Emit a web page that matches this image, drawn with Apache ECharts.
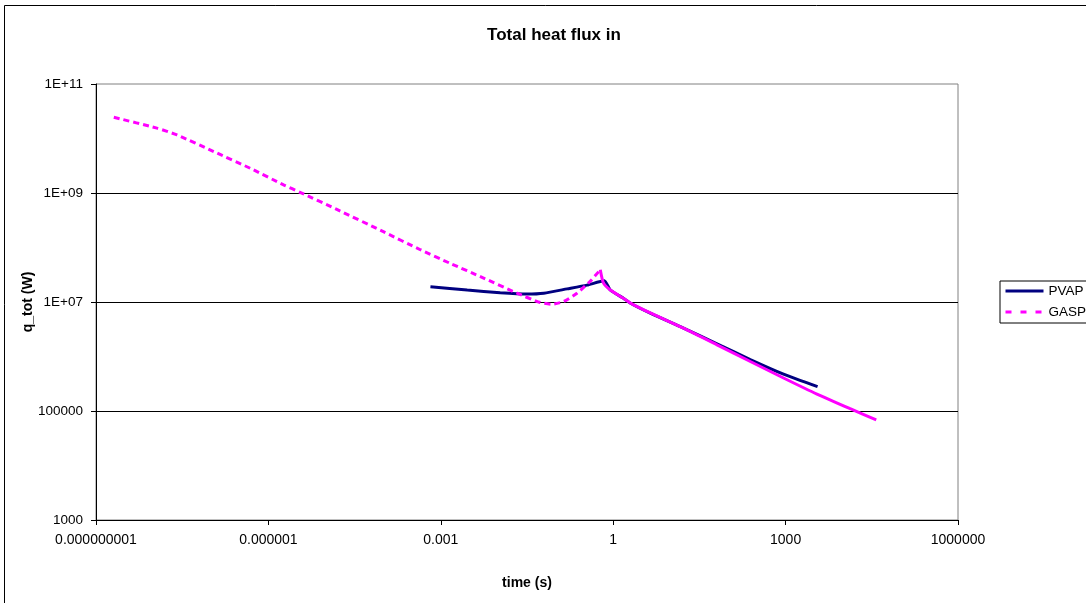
<!DOCTYPE html>
<html>
<head>
<meta charset="utf-8">
<script src="https://cdn.jsdelivr.net/npm/echarts@6/dist/echarts.min.js"></script>
<style>
  html, body { margin: 0; padding: 0; background: #fff; }
  #chart { width: 1086px; height: 603px; }
</style>
</head>
<body>
<div id="chart"></div>
<script>
const chartTitle = 'Total heat flux in';
const xAxisName = 'time (s)';
const yAxisName = 'q_tot (W)';
const seriesNames = ['PVAP', 'GASP'];

const pvapTime = [6.6e-4, 2.88e-3, 1.08e-2, 3.16e-2, 6.2e-2, 0.158, 0.35, 0.70, 0.89, 1.51, 2.0, 4.42, 16.7, 64, 243, 920, 3600];
const pvapFlux = [1.9e7, 1.66e7, 1.48e7, 1.4e7, 1.45e7, 1.74e7, 2.04e7, 2.45e7, 1.66e7, 1.17e7, 9.5e6, 6.25e6, 3.33e6, 1.71e6, 8.8e5, 4.75e5, 2.8e5];

// GASP: sparse early samples (drawn dashed) up to the peak, dense samples after it (appear solid)
const gaspTimeEarly = [2.04e-9, 1.15e-8, 2.57e-8, 1.12e-7, 4.9e-7, 1.84e-6, 3.63e-6, 1.55e-5, 1.0e-4, 4.4e-4, 1.47e-3, 5.56e-3, 2.12e-2, 5.37e-2, 8.6e-2, 0.137, 0.234, 0.398, 0.596];
const gaspFluxEarly = [2.45e10, 1.55e10, 1.16e10, 5.75e9, 2.82e9, 1.41e9, 1.02e9, 5.0e8, 1.95e8, 9.1e7, 5.1e7, 2.75e7, 1.45e7, 9.8e6, 9.1e6, 1.02e7, 1.45e7, 2.4e7, 3.9e7];
const gaspTimeLate = [0.596, 0.676, 0.89, 1.51, 2.0, 4.42, 16.7, 64, 243, 920, 3510, 1.33e4, 3.78e4];
const gaspFluxLate = [3.9e7, 2.24e7, 1.66e7, 1.17e7, 9.55e6, 6.3e6, 3.31e6, 1.64e6, 8.1e5, 4.03e5, 2.04e5, 1.1e5, 6.9e4];

const xTickLabels = ['0.000000001', '0.000001', '0.001', '1', '1000', '1000000'];
const yTickLabels = ['1000', '100000', '1E+07', '1E+09', '1E+11'];

function zip(xs, ys) { return xs.map((x, i) => [x, ys[i]]); }

const chart = echarts.init(document.getElementById('chart'), null, { renderer: 'canvas' });
const FONT = 'Arial, "Liberation Sans", sans-serif';
const NAVY = '#000080';
const MAGENTA = '#FF00FF';

chart.setOption({
  animation: false,
  backgroundColor: '#fff',
  title: {
    text: chartTitle,
    left: 549, top: 22, textAlign: 'center',
    textStyle: { fontFamily: FONT, fontSize: 17, fontWeight: 'bold', color: '#000' }
  },
  graphic: [{
    type: 'rect', silent: true,
    shape: { x: 4.5, y: 5.5, width: 1200, height: 700 },
    style: { fill: 'none', stroke: '#000', lineWidth: 1 }
  }],
  legend: {
    orient: 'vertical', left: 1000, top: 281,
    padding: [3, 60, 4, 4], itemGap: 7, itemWidth: 38, itemHeight: 14,
    borderColor: '#000', borderWidth: 1, backgroundColor: '#fff',
    textStyle: { fontFamily: FONT, fontSize: 13.5, color: '#000' },
    itemStyle: { opacity: 0 },
    lineStyle: { width: 3 },
    data: [
      { name: seriesNames[0] },
      { name: seriesNames[1], lineStyle: { width: 3, type: [6, 9] } }
    ]
  },
  grid: { left: 96, right: 128, top: 84, bottom: 83, show: true, borderColor: '#808080', borderWidth: 1 },
  xAxis: {
    type: 'log', logBase: 10, min: 1e-9, max: 1e6, interval: 3,
    name: xAxisName, nameLocation: 'middle', nameGap: 56, nameMoveOverlap: false,
    nameTextStyle: { fontFamily: FONT, fontSize: 14, fontWeight: 'bold', color: '#000' },
    axisLine: { lineStyle: { color: '#000', width: 1 } },
    axisTick: { show: true, inside: false, length: 5, lineStyle: { color: '#000' } },
    minorTick: { show: false },
    splitLine: { show: false },
    axisLabel: {
      margin: 13, fontFamily: FONT, fontSize: 14, color: '#000',
      formatter: (v, i) => xTickLabels[i] !== undefined ? xTickLabels[i] : ''
    }
  },
  yAxis: {
    type: 'log', logBase: 10, min: 1000, max: 1e11, interval: 2,
    name: yAxisName, nameLocation: 'middle', nameGap: 61, nameRotate: 90, nameMoveOverlap: false,
    nameTextStyle: { fontFamily: FONT, fontSize: 14, fontWeight: 'bold', color: '#000' },
    axisLine: { show: true, lineStyle: { color: '#000', width: 1 } },
    axisTick: { show: true, inside: false, length: 5, lineStyle: { color: '#000' } },
    minorTick: { show: false },
    splitLine: { show: true, showMinLine: false, showMaxLine: false, lineStyle: { color: '#000', width: 1 } },
    axisLabel: {
      margin: 13, fontFamily: FONT, fontSize: 13.5, color: '#000',
      formatter: (v, i) => yTickLabels[i] !== undefined ? yTickLabels[i] : ''
    }
  },
  series: [
    {
      name: seriesNames[0], type: 'line', data: zip(pvapTime, pvapFlux),
      showSymbol: false, symbol: 'circle', smooth: 0.2,
      color: NAVY,
      lineStyle: { color: NAVY, width: 3 },
      z: 2
    },
    {
      name: seriesNames[1], type: 'line', data: zip(gaspTimeEarly, gaspFluxEarly),
      showSymbol: false, symbol: 'circle', smooth: 0.2,
      color: MAGENTA,
      lineStyle: { color: MAGENTA, width: 3, type: [6, 4] },
      z: 3
    },
    {
      name: seriesNames[1], type: 'line', data: zip(gaspTimeLate, gaspFluxLate),
      showSymbol: false, symbol: 'circle', smooth: 0.2,
      color: MAGENTA,
      lineStyle: { color: MAGENTA, width: 3 },
      z: 3
    }
  ]
});
</script>
</body>
</html>
